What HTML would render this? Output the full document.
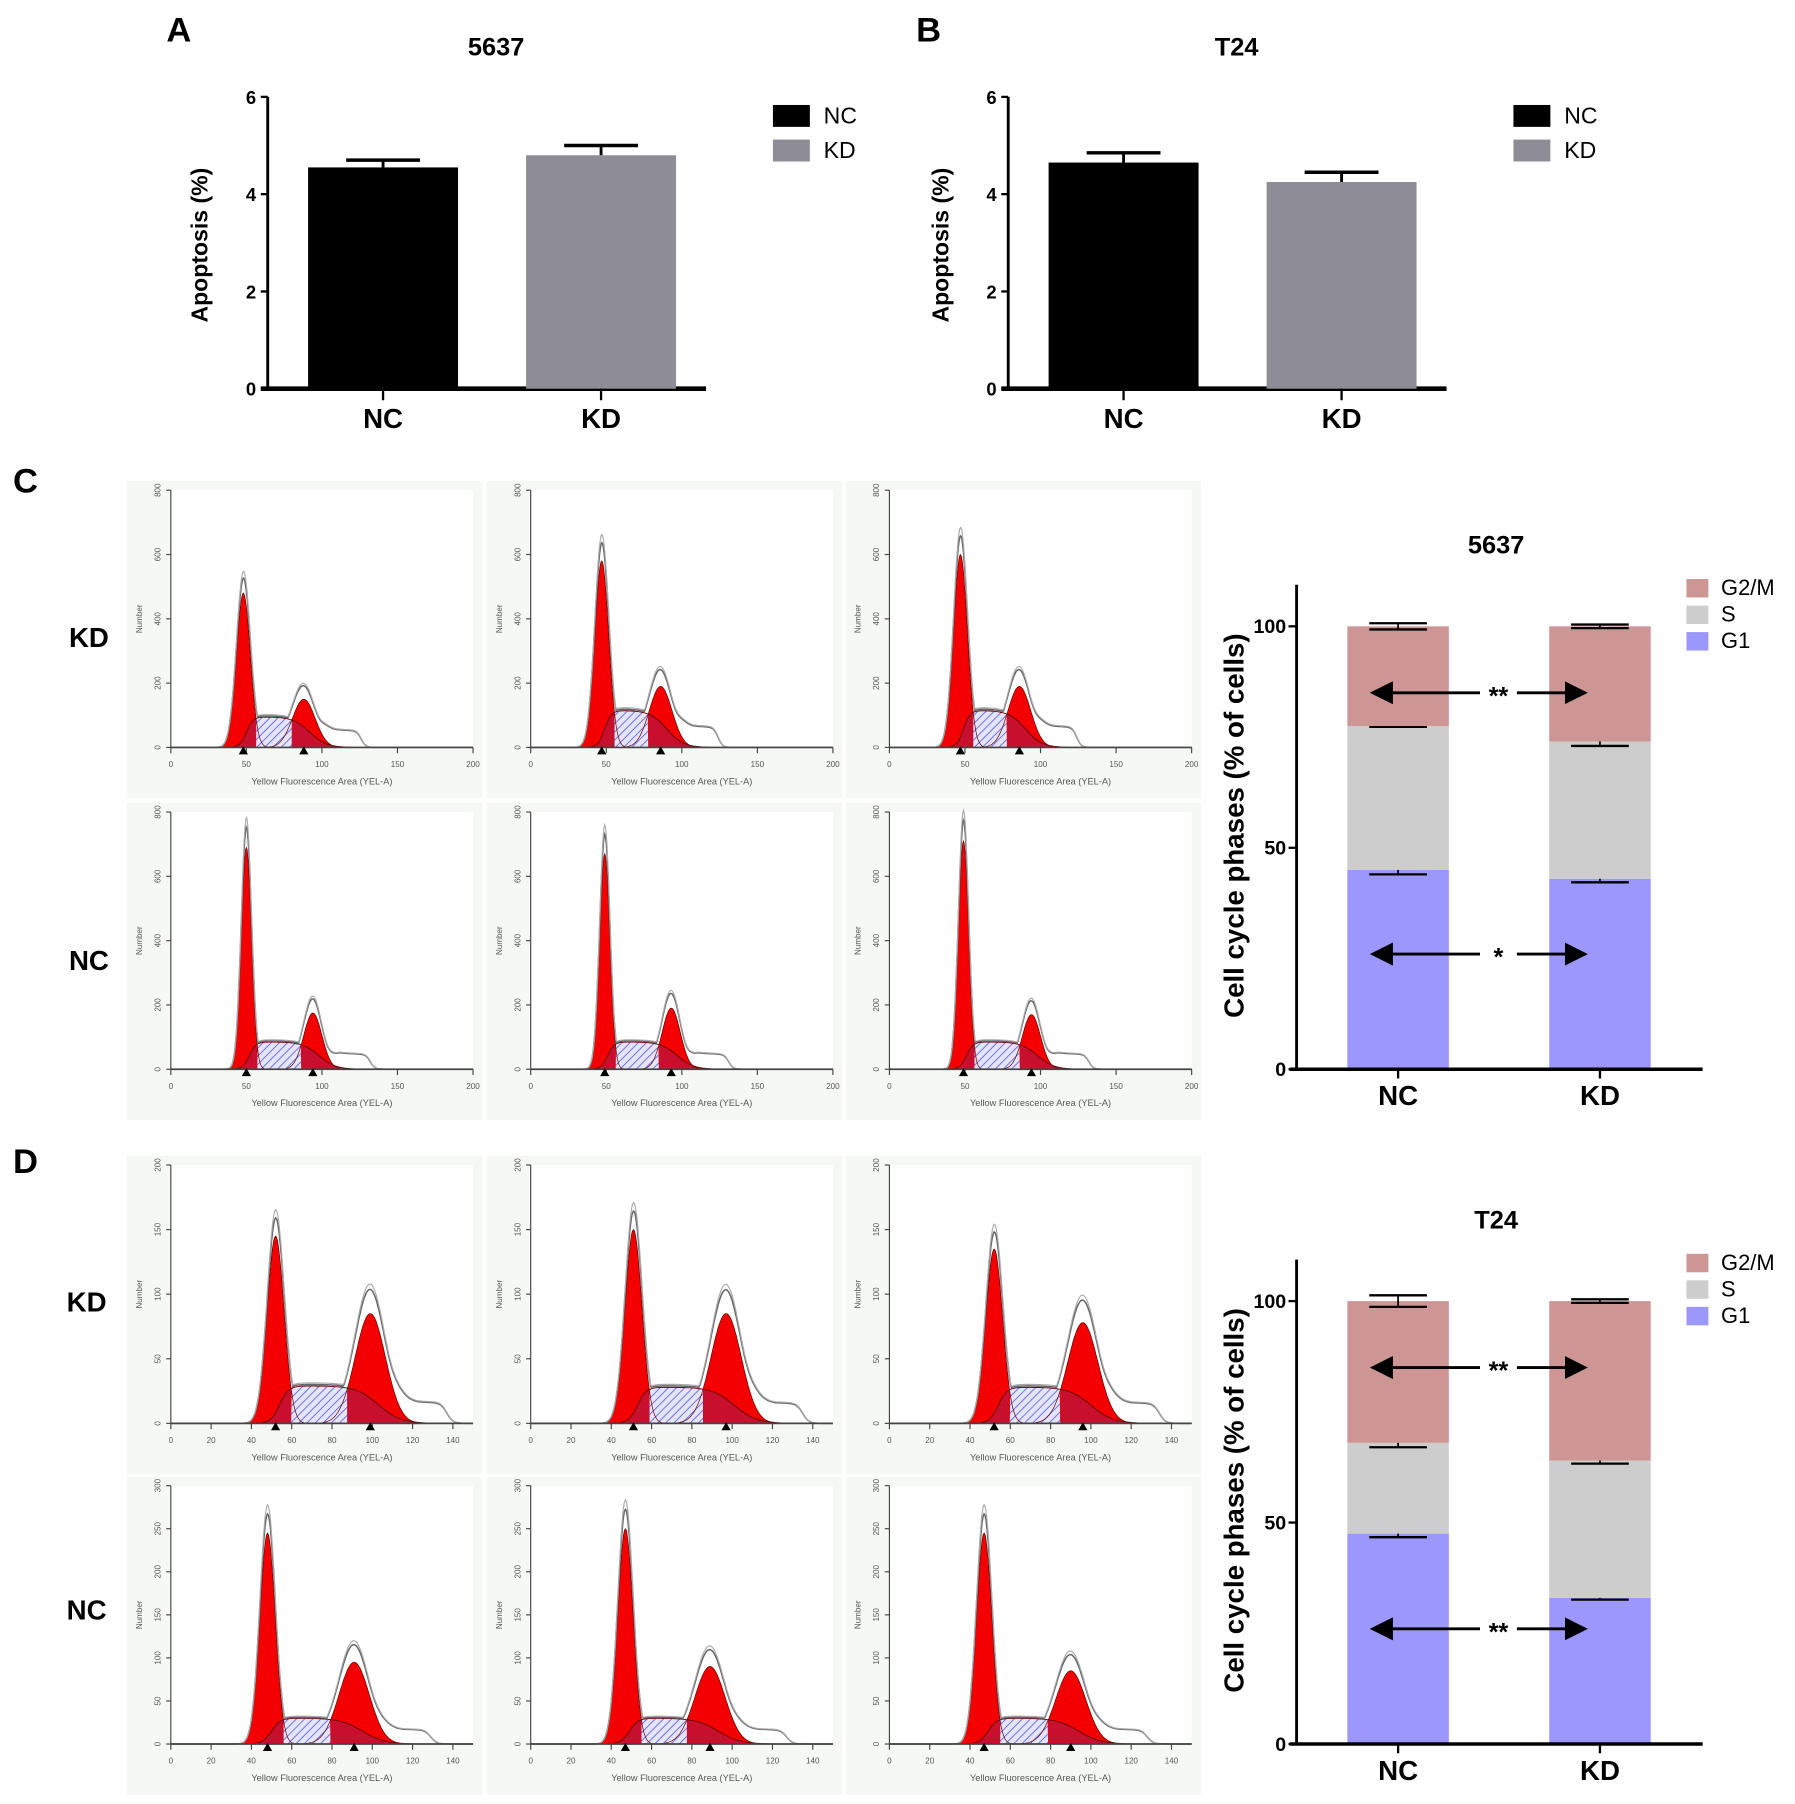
<!DOCTYPE html>
<html><head><meta charset="utf-8"><style>
html,body{margin:0;padding:0;background:#fff}
svg{display:block;font-family:"Liberation Sans",Arial,sans-serif}
</style></head><body>
<svg id="fig" width="1795" height="1804" viewBox="0 0 1556 1564" xmlns="http://www.w3.org/2000/svg">
<defs>
<pattern id="hatch" patternUnits="userSpaceOnUse" width="5" height="5" patternTransform="rotate(45)">
<rect width="5" height="5" fill="#e4e4fb"/><line x1="0" y1="0" x2="0" y2="5" stroke="#6a6ad8" stroke-width="1.6"/>
</pattern>
<marker id="arr" markerWidth="8" markerHeight="8" refX="7" refY="4" orient="auto-start-reverse"><path d="M0,0 L8,4 L0,8 z" fill="#000"/></marker>
</defs>
<g id="root"></g>
</svg>
<script>
// ---------- Data ----------
const apopCats = ["NC","KD"];
const apop5637 = [4.55, 4.8];
const apop5637Err = [0.15, 0.2];
const apopT24 = [4.65, 4.25];
const apopT24Err = [0.2, 0.2];
const apopTicks = [0,2,4,6];

const phaseNames = ["G1","S","G2/M"];
const cc5637G1 = [45, 43];
const cc5637S = [32.5, 31];
const cc5637G2 = [22.5, 26];
const cc5637Err = [[1,0.8],[0.2,1],[0.7,0.4]];
const ccT24G1 = [47.5, 33];
const ccT24S = [20.5, 31];
const ccT24G2 = [32, 36];
const ccT24Err = [[0.8,0.4],[1,0.7],[1.3,0.4]];
const ccTicks = [0,50,100];

// histograms: [g1pos, g1h, g2pos, g2h, sLevel]
const histC_KD = [[48,480,88,150,95],[47,580,86,190,115],[47,600,86,190,115]];
const histC_NC = [[50,690,94,175,85],[49,670,93,190,85],[49,710,94,170,85]];
const histD_KD = [[52,145,99,85,29],[51,150,97,85,28],[52,135,96,78,28]];
const histD_NC = [[48,245,91,95,30],[47,250,89,90,30],[47,245,90,85,30]];

// ---------- helpers ----------
const NS="http://www.w3.org/2000/svg";
const root=document.getElementById('root');
function el(tag,attrs,parent,txt){const e=document.createElementNS(NS,tag);for(const k in attrs)e.setAttribute(k,attrs[k]);if(txt!==undefined)e.textContent=txt;(parent||root).appendChild(e);return e;}
function text(x,y,s,size,opts,parent){return el('text',Object.assign({x:x,y:y,'font-size':size,'text-anchor':'middle','font-weight':'bold',fill:'#000'},opts||{}),parent,s);}

[["A",155,36],["B",805,36],["C",22,427],["D",22,1017]].forEach(p=>{
  const t=text(p[1],p[2],p[0],30);
  
  
});

// ---------- apoptosis bar charts ----------
function apopChart(ox,title,vals,errs,id){
  const g=el('g',{});
  
  
  const x0=ox, y0=337, yTop=84;
  const ys=v=>y0-(v/6)*(y0-yTop);
  const t=text(ox+198,48,title,22,{},g);
  
  
  el('line',{x1:x0,y1:yTop,x2:x0,y2:y0,stroke:'#000','stroke-width':2.5},g);
  el('line',{x1:x0-6,y1:y0,x2:x0+380,y2:y0,stroke:'#000','stroke-width':4},g);
  apopTicks.forEach(v=>{el('line',{x1:x0-6,y1:ys(v),x2:x0,y2:ys(v),stroke:'#000','stroke-width':2},g);
    const tl=text(x0-10,ys(v)+6,String(v),16,{'text-anchor':'end'},g);
    
    });
  const yt=text(0,0,"Apoptosis (%)",20,{transform:`translate(${x0-52},${(y0+yTop)/2+2}) rotate(-90)`},g);
  
  
  const cx=[x0+100,x0+289], cols=['#000','#8e8c94'];
  vals.forEach((v,i)=>{
    const b=el('rect',{x:cx[i]-65,y:ys(v),width:130,height:y0-ys(v),fill:cols[i]},g);
    
    
    const ye=ys(v+errs[i]);
    el('line',{x1:cx[i],y1:ys(v),x2:cx[i],y2:ye,stroke:'#000','stroke-width':2.5},g);
    el('line',{x1:cx[i]-32,y1:ye,x2:cx[i]+32,y2:ye,stroke:'#000','stroke-width':3},g);
    el('line',{x1:cx[i],y1:y0,x2:cx[i],y2:y0+10,stroke:'#000','stroke-width':2},g);
    const xl=text(cx[i],y0+34,apopCats[i],24,{},g);
    
    
  });
  apopCats.forEach((c,i)=>{
    const r=el('rect',{x:x0+438,y:91+i*30,width:32,height:19,fill:cols[i]},g);
    
    
    const lt=text(x0+482,107+i*30,c,20,{'text-anchor':'start','font-weight':'normal'},g);
    
    
  });
}
apopChart(232,"5637",apop5637,apop5637Err,'5637');
apopChart(874,"T24",apopT24,apopT24Err,'t24');

// ---------- histograms ----------
function hist(ax,y0,yTop,xmax,ymax,p,xTickLbls,yTickLbls,sd1,sd2,name){
  const g=el('g',{});
  
  
  const xw=262;
  el('rect',{x:ax-38,y:yTop-8,width:xw+46,height:y0-yTop+52,fill:'#f5f8f5'},g);
  el('rect',{x:ax,y:yTop,width:xw,height:y0-yTop,fill:'#fff'},g);
  const xs=v=>ax+v/xmax*xw, ys=v=>y0-v/ymax*(y0-yTop);
  const [p1,h1,p2,h2,sl]=p;
  const G=(x,pp,h,s)=>h*Math.exp(-((x-pp)**2)/(2*s*s));
  const sig=z=>1/(1+Math.exp(-z));
  const S=x=>sl*sig((x-(p1+2))/2.2)*sig(((p2+4))-x)/5.5 ? sl*sig((x-(p1+2))/2.2)*sig(((p2+4)-x)/5.5) : 0;
  const G1=x=>G(x,p1,h1,sd1), G2=x=>G(x,p2,h2,sd2);
  const pts=[];for(let x=0;x<=xmax;x+=0.5)pts.push(x);
  let xa=p1, xb=p2;
  while(xa<p2 && G1(xa)>S(xa)) xa+=0.25;
  while(xb>p1 && G2(xb)>S(xb)) xb-=0.25;
  const area=(f,a,b)=>{const pp=pts.filter(x=>x>=a&&x<=b);return 'M'+xs(a)+','+y0+' '+pp.map(x=>'L'+xs(x).toFixed(1)+','+ys(Math.max(0,f(x))).toFixed(1)).join(' ')+' L'+xs(b)+','+y0+'Z';};
  const line=f=>'M'+pts.map(x=>xs(x).toFixed(1)+','+ys(Math.max(0,f(x))).toFixed(1)).join(' L');
  el('path',{d:area(G1,0,xmax),fill:'#f40000'},g);
  el('path',{d:area(G2,0,xmax),fill:'#f40000'},g);
  el('path',{d:area(S,0,xa),fill:'#c8102e'},g);
  el('path',{d:area(S,xb,xmax),fill:'#c8102e'},g);
  el('path',{d:area(S,xa,xb),fill:'url(#hatch)'},g);
  el('path',{d:line(S),fill:'none',stroke:'#600','stroke-width':0.8},g);
  el('path',{d:line(G1),fill:'none',stroke:'#600','stroke-width':0.6},g);
  el('path',{d:line(G2),fill:'none',stroke:'#600','stroke-width':0.6},g);
  const tail=x=>sl*0.55*sig((x-(p2+12))/2)*sig((p2+38-x)/1.5);
  const env=x=>Math.max(G1(x)*1.08+G2(x)*1.15+0.3*S(x), S(x)*1.04)+tail(x);
  el('path',{d:line(env),fill:'none',stroke:'#666','stroke-width':1.3},g);
  el('path',{d:line(x=>env(x)*1.04),fill:'none',stroke:'#aaa','stroke-width':1},g);
  el('line',{x1:ax,y1:yTop,x2:ax,y2:y0,stroke:'#444','stroke-width':1},g);
  el('line',{x1:ax,y1:y0,x2:ax+xw,y2:y0,stroke:'#444','stroke-width':1.5},g);
  xTickLbls.forEach(v=>{el('line',{x1:xs(v),y1:y0,x2:xs(v),y2:y0+5,stroke:'#444'},g);
    text(xs(v),y0+17,String(v),7,{'font-weight':'normal',fill:'#555'},g);});
  yTickLbls.forEach(v=>{el('line',{x1:ax-4,y1:ys(v),x2:ax,y2:ys(v),stroke:'#444'},g);
    text(0,0,String(v),7,{'font-weight':'normal',fill:'#555',transform:`translate(${ax-9},${ys(v)}) rotate(-90)`},g);});
  text(0,0,"Number",7,{'font-weight':'normal',fill:'#555',transform:`translate(${ax-25},${(y0+yTop)/2}) rotate(-90)`},g);
  text(ax+xw/2,y0+32,"Yellow Fluorescence Area (YEL-A)",8,{'font-weight':'normal',fill:'#555'},g);
  [p1,p2].forEach(v=>el('path',{d:`M${xs(v)-4},${y0+6} L${xs(v)+4},${y0+6} L${xs(v)},${y0-1}Z`,fill:'#000'},g));
}
const colX=[148,460,771];
histC_KD.forEach((p,i)=>hist(colX[i],648,425,200,800,p,[0,50,100,150,200],[0,200,400,600,800],4.6,7.5,'histogram-c-kd-'+(i+1)));
histC_NC.forEach((p,i)=>hist(colX[i],927,704,200,800,p,[0,50,100,150,200],[0,200,400,600,800],3.4,6,'histogram-c-nc-'+(i+1)));
histD_KD.forEach((p,i)=>hist(colX[i],1234,1010,150,200,p,[0,20,40,60,80,100,120,140],[0,50,100,150,200],4.2,7.5,'histogram-d-kd-'+(i+1)));
histD_NC.forEach((p,i)=>hist(colX[i],1512,1288,150,300,p,[0,20,40,60,80,100,120,140],[0,50,100,150,200,250,300],3.8,7.5,'histogram-d-nc-'+(i+1)));
[["KD",77,561],["NC",77,841],["KD",75,1137],["NC",75,1404]].forEach((r,i)=>{
  const t=text(r[1],r[2],r[0],24);
  
  
});

// ---------- stacked cell cycle charts ----------
function ccChart(y0,title,g1,s,g2,errs,stars,id){
  const g=el('g',{});
  
  
  const ax=1124, y100=y0-384, yTop=y0-420;
  const ys=v=>y0-v/100*(y0-y100);
  const tt=text(1297,y0-447,title,22,{},g);
  
  
  const cols=['#9b97fb','#cdcdcd','#cd9694'];
  const cx=[1212,1387];
  [0,1].forEach(i=>{
    const segs=[g1[i],s[i],g2[i]];let base=0;
    segs.forEach((v,k)=>{
      const r=el('rect',{x:cx[i]-44,y:ys(base+v),width:88,height:ys(base)-ys(base+v),fill:cols[k]},g);
      
      
      base+=v;
      const e=errs[k][i];
      el('line',{x1:cx[i],y1:ys(base-e),x2:cx[i],y2:ys(base+e),stroke:'#000','stroke-width':1.5},g);
      [base-e,base+e].forEach(w=>el('line',{x1:cx[i]-25,y1:ys(w),x2:cx[i]+25,y2:ys(w),stroke:'#000','stroke-width':2},g));
    });
    el('line',{x1:cx[i],y1:y0,x2:cx[i],y2:y0+8,stroke:'#000','stroke-width':2},g);
    const xl=text(cx[i],y0+31,apopCats[i],24,{},g);
    
    
  });
  el('line',{x1:ax,y1:yTop,x2:ax,y2:y0,stroke:'#000','stroke-width':2.5},g);
  el('line',{x1:ax-6,y1:y0,x2:1476,y2:y0,stroke:'#000','stroke-width':3},g);
  ccTicks.forEach(v=>{el('line',{x1:ax-7,y1:ys(v),x2:ax,y2:ys(v),stroke:'#000','stroke-width':2},g);
    text(ax-9,ys(v)+6,String(v),17,{'text-anchor':'end'},g);});
  const yt=text(0,0,"Cell cycle phases (% of cells)",24,{transform:`translate(1078,${ys(55)}) rotate(-90)`},g);
  
  
  stars.forEach(st=>{
    const yy=ys(st[0]);
    el('line',{x1:1283,y1:yy,x2:1190,y2:yy,stroke:'#000','stroke-width':2.5,'marker-end':'url(#arr)'},g);
    el('line',{x1:1315,y1:yy,x2:1374,y2:yy,stroke:'#000','stroke-width':2.5,'marker-end':'url(#arr)'},g);
    const sl=text(1299,yy+10,st[1],22,{},g);
    
    
  });
  [2,1,0].forEach((k,j)=>{
    const r=el('rect',{x:1462,y:y0-425+j*23,width:19,height:16,fill:cols[k]},g);
    
    
    const lt=text(1492,y0-411+j*23,phaseNames[k],19,{'text-anchor':'start','font-weight':'normal'},g);
    
    
  });
}
ccChart(927,"5637",cc5637G1,cc5637S,cc5637G2,cc5637Err,[[85,"**"],[26,"*"]],'5637');
ccChart(1512,"T24",ccT24G1,ccT24S,ccT24G2,ccT24Err,[[85,"**"],[26,"**"]],'t24');
</script>
</body></html>
